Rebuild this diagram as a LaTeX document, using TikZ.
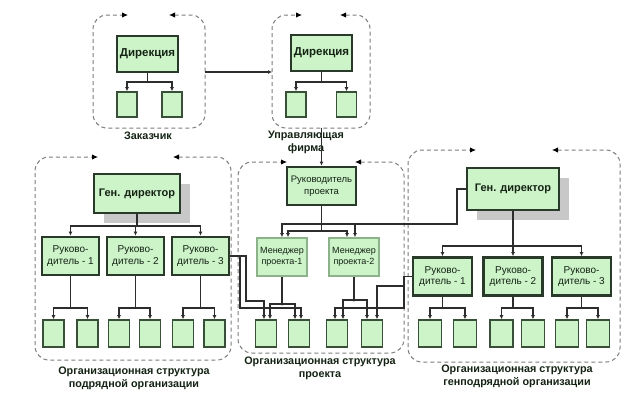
\documentclass[tikz,border=0pt]{standalone}
\usepackage{fontspec}
\setmainfont{Liberation Sans}
\usetikzlibrary{arrows.meta,shadows,calc}
\definecolor{boxfill}{RGB}{205,243,200}
\definecolor{bdark}{RGB}{42,58,42}
\definecolor{bleaf}{RGB}{55,80,55}
\definecolor{bmgr}{RGB}{140,178,140}
\definecolor{cline}{RGB}{45,45,45}
\definecolor{gdash}{RGB}{125,125,125}
\definecolor{txt}{RGB}{20,35,20}
\definecolor{shad}{RGB}{200,200,200}
\tikzset{
  >={Latex[length=4pt,width=4pt]},
  bx/.style={draw=bdark, line width=2.8pt, fill=boxfill, inner sep=0pt, align=center, text=txt},
  gd/.style={bx, minimum width=86pt, minimum height=39pt, font=\fontsize{11}{13}\selectfont\bfseries,
    drop shadow={shadow xshift=10pt, shadow yshift=-10pt, fill=shad, opacity=1}},
  dir/.style={bx, minimum width=61pt, minimum height=36pt, font=\fontsize{11.5}{13}\selectfont\bfseries},
  ruk/.style={bx, minimum width=57pt, minimum height=38pt, font=\fontsize{10}{11.5}\selectfont},
  mg/.style={draw=bmgr, line width=1.8pt, fill=boxfill, inner sep=0pt, align=center, text=txt,
    minimum width=50pt, minimum height=38pt, font=\fontsize{9}{11.5}\selectfont},
  lf/.style={draw=bleaf, line width=1.6pt, fill=boxfill, inner sep=0pt, minimum width=21pt, minimum height=27pt},
  lfs/.style={lf, minimum width=20pt, minimum height=25pt},
  conn/.style={draw=cline, line width=1.1pt},
  grp/.style={draw=gdash, dash pattern=on 4pt off 3pt, line width=1pt, rounded corners=14pt,
    arrows={Latex[length=6pt,width=5.5pt,color=black]-Latex[length=6pt,width=5.5pt,color=black]}},
  glabel/.style={align=center, text=txt, font=\fontsize{10.8}{13}\selectfont\bfseries, inner sep=0pt},
  dot/.style={circle, fill=cline, inner sep=0pt, minimum size=3pt},
}
\newcommand\grpbox[6]{\draw[grp] (#6,#2) -- (#3,#2) -- (#3,#4) -- (#1,#4) -- (#1,#2) -- (#5,#2);}
\begin{document}
\begin{tikzpicture}[x=1pt,y=-1pt]
\useasboundingbox[fill=white] (0,0) rectangle (640,405);

% group borders
\grpbox{93}{15}{205}{128}{128}{169}
\grpbox{272}{15}{370}{128}{302}{340}
\grpbox{35}{157}{231}{360}{98}{173}
\grpbox{238}{162}{404}{353}{287}{355}
\grpbox{408}{150}{620}{362}{476}{552}

% top-left: Заказчик
\node[dir] (dirA) at (147.5,54) {Дирекция};
\node[lfs] (lA1) at (127,104.5) {};
\node[lfs] (lA2) at (172,104.5) {};
% top-middle: Управляющая фирма
\node[dir] (dirB) at (321.5,53) {Дирекция};
\node[lfs] (lB1) at (296,104.5) {};
\node[lfs] (lB2) at (346.5,104.5) {};
\coordinate (busTop) at (0,82);
\foreach \p/\a/\b in {dirA/lA1/lA2, dirB/lB1/lB2} {
  \draw[conn] (\p.south) -- (\p.south |- busTop);
  \draw[conn,->] (\p.south |- busTop) -| (\a.north);
  \draw[conn,->] (\p.south |- busTop) -| (\b.north);
}
\coordinate (gAe) at (205,72);
\coordinate (gBw) at (272,72);
\draw[conn,->] (gAe) -- (gBw);

\node[glabel] (tA) at (148,136) {Заказчик};
\node[glabel] (tB) at (306,142.5) {Управляющая\\фирма};

% left group
\node[gd] (gdL) at (137,193.5) {Ген. директор};
\node[ruk] (rL1) at (70.5,256) {Руково-\\дитель - 1};
\node[ruk] (rL2) at (135.5,256) {Руково-\\дитель - 2};
\node[ruk] (rL3) at (200.5,256) {Руково-\\дитель - 3};
\foreach \n/\x in {lL1/53.5, lL2/87.5, lL3/119, lL4/150, lL5/183, lL6/214.5}
  \node[lf] (\n) at (\x,333.5) {};

% right group
\node[gd, minimum width=92pt, minimum height=42pt] (gdR) at (513,189) {Ген. директор};
\node[ruk, minimum width=59pt] (rR1) at (442.5,276.5) {Руково-\\дитель - 1};
\node[ruk, minimum width=59pt] (rR2) at (513,276.5) {Руково-\\дитель - 2};
\node[ruk, minimum width=59pt] (rR3) at (581.5,276.5) {Руково-\\дитель - 3};
\foreach \n/\x in {lR1/430, lR2/465, lR3/501.5, lR4/533, lR5/567, lR6/598}
  \node[lf, minimum width=23pt] (\n) at (\x,333.5) {};

% middle group
\node[bx, minimum width=69pt, minimum height=38pt, font=\fontsize{9.5}{11.5}\selectfont] (rp) at (321.5,186) {Руководитель\\проекта};
\node[mg] (m1) at (282,257) {Менеджер\\проекта-1};
\node[mg] (m2) at (354,257) {Менеджер\\проекта-2};
\foreach \n/\x in {lm1/266, lm2/299, lm3/337, lm4/372}
  \node[lf] (\n) at (\x,333.5) {};

\node[glabel] (tL) at (134,378.5) {Организационная структура\\подрядной организации};
\node[glabel] (tM) at (320,368.5) {Организационная структура\\проекта};
\node[glabel] (tR) at (517,376.5) {Организационная структура\\генподрядной организации};

% trees in side groups
\coordinate (busL) at (0,226);
\coordinate (busR) at (0,246);
\coordinate (busLow) at (0,308);
\draw[conn] (gdL.south) -- (gdL.south |- busL);
\draw[conn,->] (gdL.south |- busL) -| (rL1.north);
\draw[conn,->] (gdL.south |- busL) -| (rL2.north);
\draw[conn,->] (gdL.south |- busL) -| (rL3.north);
\draw[conn] (gdR.south) -- (gdR.south |- busR);
\draw[conn,->] (gdR.south |- busR) -| (rR1.north);
\draw[conn,->] (gdR.south |- busR) -| (rR2.north);
\draw[conn,->] (gdR.south |- busR) -| (rR3.north);
\foreach \p/\a/\b in {rL1/lL1/lL2, rL2/lL3/lL4, rL3/lL5/lL6, rR1/lR1/lR2, rR2/lR3/lR4, rR3/lR5/lR6} {
  \draw[conn] (\p.south) -- (\p.south |- busLow);
  \draw[conn,->] (\p.south |- busLow) -| (\a.north);
  \draw[conn,->] (\p.south |- busLow) -| (\b.north);
}

% middle connections
\coordinate (gBs) at (321.5,128);
\draw[conn,->] (gBs) -- (rp.north);
\coordinate (k7) at (0,224);
\coordinate (k9) at (0,231);
\coordinate (k8) at (457,224);
\draw[conn] (rp.south) -- (rp.south |- k7);
\draw[conn,->] (rp.south |- k7) -| (m1.north);
\draw[conn,->] (rp.south |- k7) -| ([xshift=1pt]m2.north);
\draw[conn] (gdR.west) -| (k8) -- (rp.south |- k7) -- (rp.south |- k9);
\draw[conn,->] (rp.south |- k9) -| ([xshift=6pt]m1.north);
\draw[conn,->] (rp.south |- k9) -| ([xshift=-7pt]m2.north);
\node[dot] (j1) at (rp.south |- k7) {};

% managers to leaves
\coordinate (k3) at (0,304);
\coordinate (k4) at (0,300);
\draw[conn] (m1.south) -- (m1.south |- k3);
\draw[conn,->] (m1.south |- k3) -| ([xshift=4pt]lm1.north);
\draw[conn,->] (m1.south |- k3) -| ([xshift=-4pt]lm2.north);
\node[dot] (j2) at (m1.south |- k3) {};
\draw[conn] (m2.south) -- (m2.south |- k4);
\draw[conn,->] (m2.south |- k4) -| ([xshift=6pt]lm3.north);
\draw[conn,->] (m2.south |- k4) -| ([xshift=-5pt]lm4.north);
\node[dot] (j3) at (m2.south |- k4) {};

% cross links from subcontractor / general contractor heads
\coordinate (k1) at (246,301);
\coordinate (k2) at (240,308);
\draw[conn,->] (rL3.east) -| (k1) -| ([xshift=-2pt]lm1.north);
\draw[conn,->] (rL3.east) -| (k2) -| ([xshift=2pt]lm2.north);
\coordinate (k5) at (404,308);
\coordinate (k6) at (404,286);
\draw[conn,->] (rR1.west) -| (k5) -| ([xshift=-2pt]lm3.north);
\draw[conn,->] (rR1.west) -| (k6) -| ([xshift=5pt]lm4.north);
\end{tikzpicture}
\end{document}
